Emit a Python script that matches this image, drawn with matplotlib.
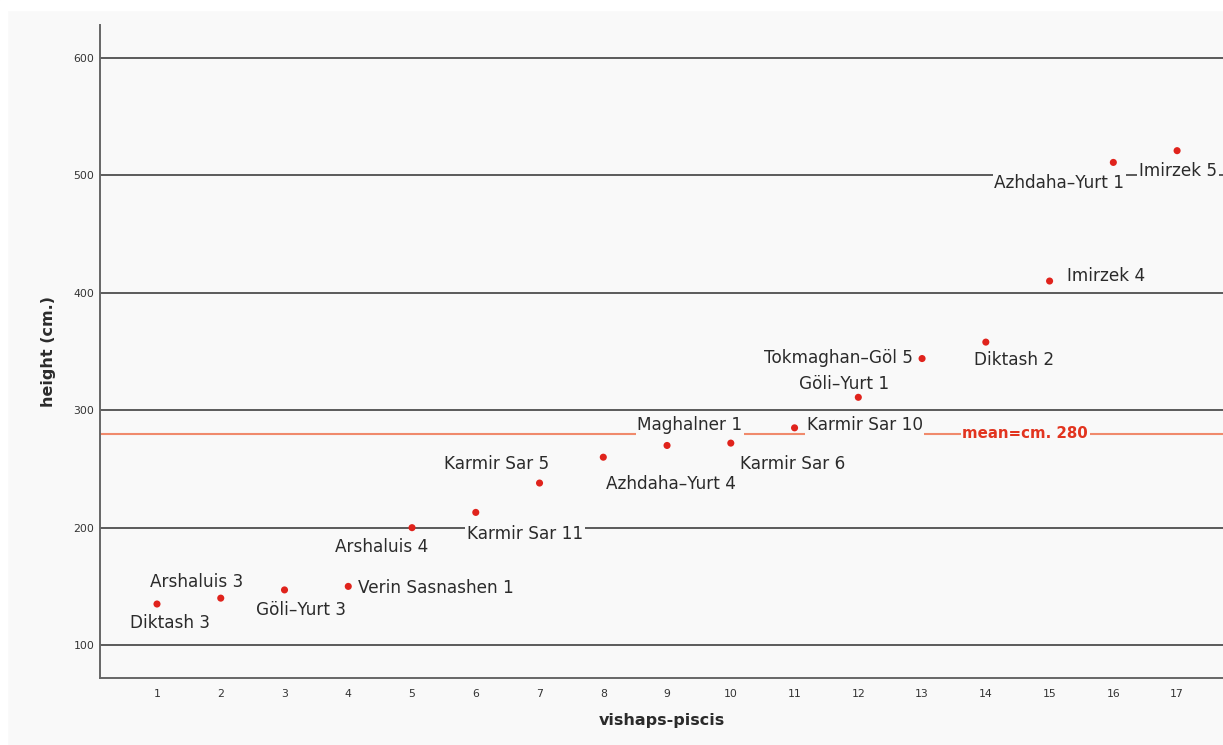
import numpy as np
import matplotlib
matplotlib.use('Agg')
import matplotlib.pyplot as plt
from matplotlib.patches import Rectangle

# data
idx = [1, 2, 3, 4, 5, 6, 7, 8, 9, 10, 11, 12, 13, 14, 15, 16, 17]
heights = [135, 140, 147, 150, 200, 213, 238, 260, 270, 272, 285, 311, 344, 358, 410, 511, 521]
names = ['Diktash 3', 'Arshaluis 3', 'Göli–Yurt 3', 'Verin Sasnashen 1', 'Arshaluis 4',
         'Karmir Sar 11', 'Karmir Sar 5', 'Azhdaha–Yurt 4', 'Maghalner 1', 'Karmir Sar 6',
         'Karmir Sar 10', 'Göli–Yurt 1', 'Tokmaghan–Göl 5', 'Diktash 2', 'Imirzek 4',
         'Azhdaha–Yurt 1', 'Imirzek 5']
mean_val = 280
yticks = [100, 200, 300, 400, 500, 600]

# label placement (pixel offsets from point, alignment)
offsets = [(13, -19, 'center'), (-24, 16, 'center'), (16, -20, 'center'), (10, -2, 'left'),
           (-30, -19, 'center'), (49, -22, 'center'), (-43, 19, 'center'), (68, -27, 'center'),
           (23, 20, 'center'), (62, -21, 'center'), (12, 3, 'left'), (-14, 13, 'center'),
           (-9, 1, 'right'), (28, -18, 'center'), (17, 5, 'left'), (-54, -21, 'center'),
           (1, -20, 'center')]

bg = '#f9f9f9'
fig = plt.figure(figsize=(12.23, 7.45), dpi=100, facecolor=bg)
# white margin on the top and left
fig.patches.append(Rectangle((0, 0), 7 / 1223, 1, transform=fig.transFigure, color='white', zorder=-1))
fig.patches.append(Rectangle((0, 1 - 10 / 745), 1, 10 / 745, transform=fig.transFigure, color='white', zorder=-1))

ax = fig.add_axes([100 / 1223, 1 - 678 / 745, 1 - 100 / 1223, (678 - 25) / 745])
ax.set_facecolor(bg)

for y in yticks:
    ax.axhline(y, color='#5a5a5a', lw=1.4, zorder=1)
ax.axhline(mean_val, color='#f08a6c', lw=1.5, zorder=1)

ax.scatter(idx, heights, s=26, color='#e0231c', zorder=4, edgecolors='none')

for x, h, n, (dx, dy, ha) in zip(idx, heights, names, offsets):
    ax.annotate(n, (x, h), xytext=(dx, dy), textcoords='offset pixels', ha=ha, va='center',
                fontsize=12.2, color='#2b2b2b', zorder=3,
                bbox=dict(facecolor=bg, edgecolor='none', pad=1.2))

ax.text(14.62, mean_val, 'mean=cm. 280', color='#e2341f', fontsize=10.8, fontweight='bold',
        ha='center', va='center', zorder=3, bbox=dict(facecolor=bg, edgecolor='none', pad=1.2))

ax.set_xlim(0.106, 17.72)
ax.set_ylim(72, 628)
ax.set_xticks(idx)
ax.set_yticks(yticks)
ax.tick_params(length=0, labelsize=7.8, colors='#333333', pad=8)
ax.tick_params(axis='y', pad=4)
for s in ['top', 'right']:
    ax.spines[s].set_visible(False)
for s in ['left', 'bottom']:
    ax.spines[s].set_color('#666666')
    ax.spines[s].set_linewidth(1.4)

ax.set_xlabel('vishaps-piscis', fontsize=11.5, fontweight='bold', color='#2b2b2b', labelpad=10)
ax.set_ylabel('height (cm.)', fontsize=11.5, fontweight='bold', color='#2b2b2b', labelpad=13)

fig.savefig('out.png', dpi=100, facecolor=fig.get_facecolor())
